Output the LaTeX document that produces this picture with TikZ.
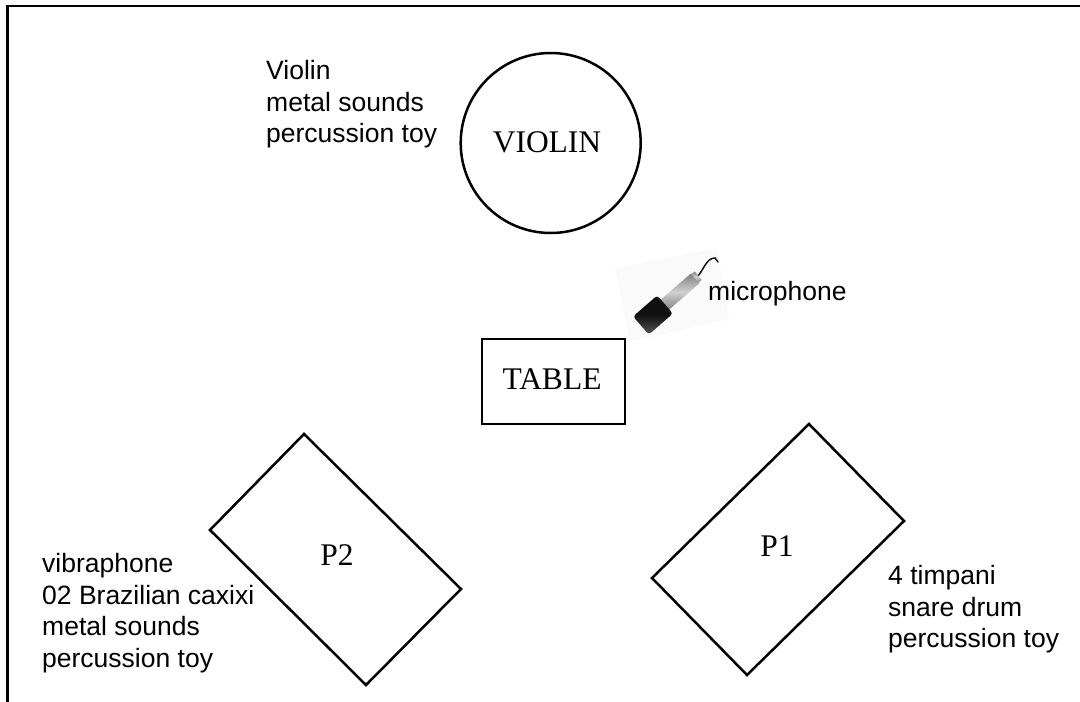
\documentclass[tikz,border=0pt]{standalone}
\usepackage{fontspec}
\setmainfont{Liberation Serif}
\newfontfamily\helv{Liberation Sans}
\usepackage{xcolor}
\usepackage{tikz}
\definecolor{ink}{HTML}{000000}
\definecolor{micbody}{HTML}{111111}
\definecolor{micedge}{HTML}{555555}
\definecolor{mictube}{HTML}{808080}
\definecolor{micshine}{HTML}{D0D0D0}
\definecolor{micback}{HTML}{FAFAFA}
\tikzset{
  base/.style={draw=ink, line width=2.5pt, line join=miter},
  cable/.style={draw=micbody, line width=1.5pt, line cap=round},
  lab/.style={text=ink, font=\fontsize{31.5}{33}\selectfont, inner sep=0pt, anchor=base},
  note/.style={text=ink, font=\helv\fontsize{26.5}{31.7}\selectfont, align=left, inner sep=0pt, anchor=north west},
}
\begin{document}
\begin{tikzpicture}[x=1pt,y=-1pt]
  \useasboundingbox (0,0) rectangle (1080,702);
  % frame
  \coordinate (FA) at (7.5,702);
  \coordinate (FB) at (7.5,6);
  \coordinate (FC) at (1080,6);
  \draw[base] (FA)--(FB)--(FC);
  % violin
  \coordinate (V) at (550.7,143);
  \draw[base] (V) circle (90);
  \node[lab] (violin) at (547,152) {VIOLIN};
  \node[note] (violinnote) at (266,60) {Violin\\metal sounds\\percussion toy};
  % table
  \draw[base] (482,339) rectangle (625,424);
  \node[lab] (table) at (552,389) {TABLE};
  % players
  \coordinate (A1) at (809,424);
  \coordinate (A2) at (904,521);
  \coordinate (A3) at (747,675);
  \coordinate (A4) at (652,578);
  \draw[base] (A1)--(A2)--(A3)--(A4)--cycle;
  \node[lab] (pone) at (777,556) {P1};
  \node[note] (ponenote) at (888,565) {4 timpani\\snare drum\\percussion toy};
  \coordinate (B1) at (304,434);
  \coordinate (B2) at (461,589);
  \coordinate (B3) at (366,685);
  \coordinate (B4) at (210,530);
  \draw[base] (B1)--(B2)--(B3)--(B4)--cycle;
  \node[lab] (ptwo) at (337,565) {P2};
  \node[note] (ptwonote) at (42,553) {vibraphone\\02 Brazilian caxixi\\metal sounds\\percussion toy};
  % microphone
  \fill[micback] (615,268) -- (717,248) -- (729,319) -- (630,342) -- cycle;
  \draw[cable] (697,277) .. controls (704,270) and (706,258) .. (715,258) -- (718,262);
  \begin{scope}[shift={(653,315)},rotate=41]
    \shade[top color=mictube, bottom color=mictube, middle color=micshine] (14,-6.5) rectangle (56,6.5);
    \shade[top color=mictube, bottom color=mictube, middle color=micshine] (56,-5.5) rectangle (60,5.5);
    \shade[top color=micbody, bottom color=micedge, middle color=micbody, rounded corners=3pt] (-16,-12) rectangle (16,12);
  \end{scope}
  \node[note] (micnote) at (708,281) {microphone};
\end{tikzpicture}
\end{document}
